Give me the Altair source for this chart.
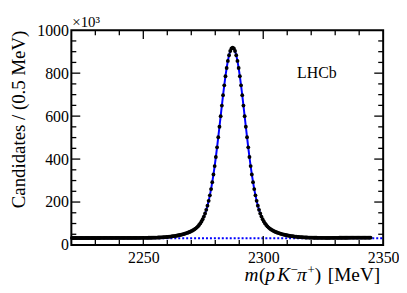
import altair as alt
import pandas as pd

# ---- data (counts in units of 10^3 per 0.5 MeV bin) ----
bin_low = 2220.0
bin_width = 0.5
counts_left = [
    32.6, 32.6, 32.6, 32.6, 32.6, 32.6,
    32.6, 32.6, 32.6, 32.6, 32.6, 32.6,
    32.7, 32.7, 32.7, 32.7, 32.7, 32.7,
    32.7, 32.7, 32.7, 32.7, 32.7, 32.7,
    32.8, 32.8, 32.8, 32.8, 32.8, 32.8,
    32.8, 32.8, 32.8, 32.8, 32.8, 32.8,
    32.9, 32.9, 32.9, 32.9, 32.9, 32.9,
    32.9, 32.9, 32.9, 32.9, 32.9, 32.9,
    33.0, 33.0, 33.0, 33.0, 33.0, 33.0,
    33.1, 33.1, 33.1, 33.2, 33.2, 33.3, 33.3, 33.4, 33.5, 33.5,
    33.6, 33.7, 33.8, 34.0, 34.1, 34.3, 34.5, 34.7, 34.9, 35.1,
    35.4, 35.7, 36.1, 36.5, 36.9, 37.4, 37.9, 38.5, 39.1, 39.8,
    40.6, 41.4, 42.3, 43.2, 44.2, 45.3, 46.5, 47.9, 49.3, 50.8,
    52.4, 54.2, 56.1, 58.1, 60.4, 62.9, 65.7, 68.9, 72.4, 76.5,
    81.2, 86.6, 93.1, 100.6, 109.5, 119.9, 132.3, 146.7, 163.6, 183.1,
    205.6, 231.2, 260.2, 292.5, 328.3, 367.5, 409.7, 454.6, 501.8, 550.5,
    599.9, 649.2, 697.4, 743.3, 785.8, 824.1, 857.0, 883.5, 903.0, 915.0,
]
counts_peak = [919.0]
counts_right = [
    915.0, 903.0, 883.5, 857.0, 824.1, 785.8, 743.3, 697.4, 649.2, 599.9,
    550.5, 501.8, 454.6, 409.7, 367.5, 328.3, 292.5, 260.2, 231.2, 205.6,
    183.1, 163.6, 146.7, 132.3, 119.9, 109.5, 100.6, 93.1, 86.6, 81.2,
    76.5, 72.4, 68.9, 65.7, 62.9, 60.4, 58.1, 56.1, 54.2, 52.4,
    50.8, 49.3, 47.9, 46.5, 45.3, 44.2, 43.2, 42.3, 41.4, 40.6,
    39.8, 39.1, 38.5, 37.9, 37.4, 36.9, 36.5, 36.1, 35.7, 35.4,
    35.1, 34.9, 34.7, 34.5, 34.3, 34.1, 34.0, 33.8, 33.7, 33.6,
    33.5, 33.5, 33.4, 33.3, 33.3, 33.2, 33.2, 33.1, 33.1, 33.1,
    33.2, 33.2, 33.3, 33.3, 33.4, 33.4, 33.5, 33.5, 33.6, 33.6,
    33.7, 33.7, 33.8, 33.8, 33.9, 33.9, 34.0, 34.0, 34.0, 34.0,
    34.0, 34.0, 34.0, 34.0, 34.0, 34.0, 34.0, 34.0, 34.0, 34.0,
    34.0, 34.0, 34.0, 34.0, 34.0,
]
counts = counts_left + counts_peak + counts_right
mass = [bin_low + bin_width * (i + 0.5) for i in range(len(counts))]
fit_values = counts

bkg_mass = [2220, 2350]
bkg_level = [31, 31]

x_domain = [2220, 2350]
y_domain = [0, 1000]
x_labels = [2250, 2300, 2350]
y_labels = [0, 200, 400, 600, 800, 1000]
x_major = [2250, 2300]
x_minor = [2230, 2240, 2260, 2270, 2280, 2290, 2310, 2320, 2330, 2340]
y_major = [200, 400, 600, 800]
y_minor = [50, 100, 150, 250, 300, 350, 450, 500, 550, 650, 700, 750, 850, 900, 950]

# ---- layout / style ----
W, H = 315, 217
FONT = "Liberation Serif, Times New Roman, serif"
BLUE = "#0000ff"
MAJ, MIN = 9, 5

xs = alt.Scale(domain=x_domain, nice=False, zero=False)
ys = alt.Scale(domain=y_domain, nice=False, zero=False)

df = pd.DataFrame({"m": mass, "n": counts, "fit": fit_values})
bkg_df = pd.DataFrame({"m": bkg_mass, "n": bkg_level})

x_axis = alt.Axis(values=x_labels, ticks=False, domain=False, grid=False,
                  format="d", labelPadding=5, labelFlush=False, title=None,
                  labelFont=FONT, labelFontSize=16, labelColor="black")
y_axis = alt.Axis(values=y_labels, ticks=False, domain=False, grid=False,
                  format="d", labelPadding=3, labelFlush=False,
                  labelFont=FONT, labelFontSize=16, labelColor="black",
                  title="Candidates / (0.5 MeV)", titleFont=FONT, titleFontSize=19,
                  titleFontWeight="normal", titleColor="black",
                  titleAnchor="end", titlePadding=8)

X = lambda f: alt.X(f, scale=xs, axis=x_axis)
Y = lambda f: alt.Y(f, scale=ys, axis=y_axis)

bkg = alt.Chart(bkg_df).mark_line(color=BLUE, strokeWidth=2, strokeDash=[2, 2]).encode(
    x=X("m:Q"), y=Y("n:Q"))
fit = alt.Chart(df).mark_line(color=BLUE, strokeWidth=2).encode(
    x=X("m:Q"), y=Y("fit:Q"))
pts = alt.Chart(df).mark_circle(size=15, color="black", opacity=1).encode(
    x=X("m:Q"), y=Y("n:Q"))

def xticks(vals, L):
    d = pd.DataFrame({"t": vals})
    bot = alt.Chart(d).mark_rule(color="black", strokeWidth=1.3).encode(
        x=X("t:Q"), y=alt.value(H), y2=alt.value(H - L))
    top = alt.Chart(d).mark_rule(color="black", strokeWidth=1.3).encode(
        x=X("t:Q"), y=alt.value(0), y2=alt.value(L))
    return [bot, top]

def yticks(vals, L):
    d = pd.DataFrame({"t": vals})
    left = alt.Chart(d).mark_rule(color="black", strokeWidth=1.3).encode(
        y=Y("t:Q"), x=alt.value(0), x2=alt.value(L))
    right = alt.Chart(d).mark_rule(color="black", strokeWidth=1.3).encode(
        y=Y("t:Q"), x=alt.value(W), x2=alt.value(W - L))
    return [left, right]

ticks = xticks(x_major, MAJ) + xticks(x_minor, MIN) + yticks(y_major, MAJ) + yticks(y_minor, MIN)

def label(text, x, y, size=16, style="normal", align="left", baseline="alphabetic"):
    return alt.Chart(pd.DataFrame({"a": [0]})).mark_text(
        text=text, font=FONT, fontSize=size, fontStyle=style, color="black",
        align=align, baseline=baseline).encode(x=alt.value(x), y=alt.value(y))

texts = [
    label("LHCb", 248, 43, size=16, align="center", baseline="middle"),
    label("\u00d710\u00b3", 1, -3, size=15),
]
# x-axis title pieces: m(pK-pi+) [MeV]
ty = 253
tx = 175
TS = 19.5
pieces = [
    ("m", 0, TS, "italic", 0),
    ("(", 14.5, TS, "normal", 0),
    ("p", 21, TS, "italic", 0),
    ("K", 33, TS, "italic", 0),
    ("\u2212", 46.5, 13, "normal", -7),
    ("\u03c0", 53, TS, "italic", 0),
    ("+", 63.5, 13, "normal", -7),
    (")", 71, TS, "normal", 0),
    ("[MeV]", 84, TS, "normal", 0),
]
for t, dx, s, st, dy in pieces:
    texts.append(label(t, tx + dx, ty + dy, size=s, style=st))

chart = alt.layer(bkg, fit, pts, *ticks, *texts).properties(
    width=W, height=H,
    autosize=alt.AutoSizeParams(type="none"),
    padding={"left": 64, "top": 21, "right": 16, "bottom": 41},
).configure(
    font=FONT
).configure_view(
    stroke="black", strokeWidth=2
).configure_axis(
    labelFont=FONT, labelFontSize=16, labelColor="black",
    titleFont=FONT, titleFontSize=19, titleFontWeight="normal", titleColor="black",
)

chart.save("out.html", embed_options={"renderer": "svg", "actions": False})
